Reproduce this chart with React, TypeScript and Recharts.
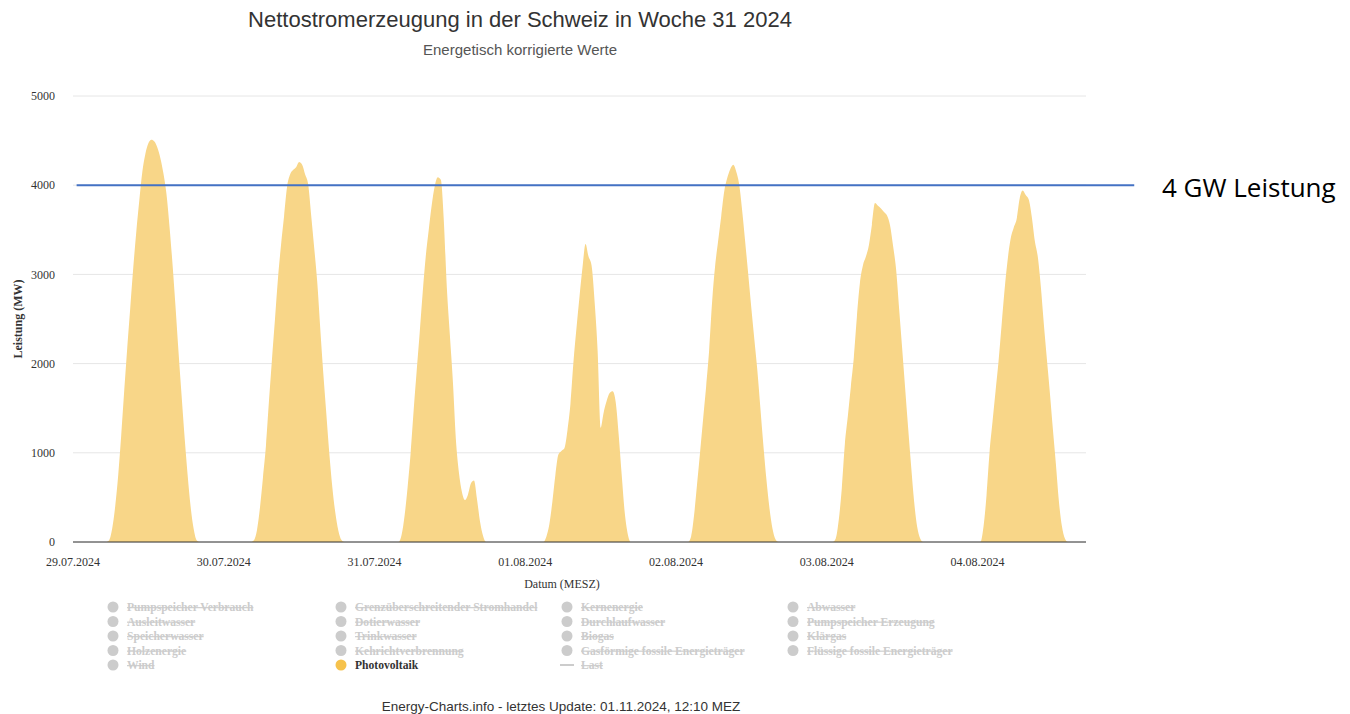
import React from 'react';
import { ComposedChart, Area, XAxis, YAxis, CartesianGrid, ReferenceLine } from 'recharts';

// ---- data ----
const DAY_LABELS = ['29.07.2024', '30.07.2024', '31.07.2024', '01.08.2024', '02.08.2024', '03.08.2024', '04.08.2024'];
const TICK_HOURS = [0, 25, 50, 75, 100, 125, 150];
const Y_TICKS = [0, 1000, 2000, 3000, 4000, 5000];
const X_DOMAIN_HOURS = 168;
const THRESHOLD_MW = 4000;
const THRESHOLD_LABEL = '4 GW Leistung';

// Photovoltaik (MW), half-hourly values from 05:00 to 21:30 for each day
const DAY_START_HOUR = 5;
const STEP_HOURS = 0.5;
const PV_29_07 = [0, 0, 20, 150, 400, 750, 1200, 1700, 2180, 2630, 3080, 3480, 3830, 4150, 4350, 4470, 4510, 4490, 4420, 4300, 4130, 3900, 3540, 3120, 2640, 2130, 1650, 1180, 760, 400, 150, 20, 0, 0];
const PV_30_07 = [0, 0, 20, 130, 380, 720, 1080, 1580, 2050, 2500, 2960, 3330, 3650, 3980, 4120, 4170, 4200, 4260, 4230, 4120, 4010, 3660, 3300, 2920, 2400, 1900, 1450, 1000, 620, 330, 130, 25, 0, 0];
const PV_31_07 = [0, 0, 0, 80, 300, 620, 1000, 1480, 1920, 2350, 2800, 3200, 3500, 3780, 3990, 4090, 4060, 3600, 2850, 2320, 1800, 1150, 780, 560, 470, 530, 660, 690, 480, 230, 70, 0, 0, 0];
const PV_01_08 = [0, 0, 0, 60, 200, 450, 750, 980, 1020, 1050, 1250, 1550, 2020, 2400, 2750, 3080, 3340, 3200, 3100, 2700, 2150, 1280, 1450, 1580, 1670, 1690, 1570, 1200, 750, 330, 90, 0, 0, 0];
const PV_02_08 = [0, 0, 0, 60, 300, 650, 1010, 1380, 1740, 2150, 2700, 3100, 3380, 3650, 3930, 4080, 4180, 4230, 4150, 4000, 3700, 3350, 2990, 2620, 2270, 1920, 1500, 1080, 700, 380, 150, 30, 0, 0];
const PV_03_08 = [0, 0, 0, 40, 250, 600, 1090, 1410, 1740, 2070, 2520, 2900, 3100, 3200, 3330, 3560, 3800, 3770, 3740, 3700, 3660, 3550, 3320, 3060, 2620, 2180, 1730, 1280, 850, 450, 170, 40, 0, 0];
const PV_04_08 = [0, 0, 0, 0, 170, 520, 1000, 1350, 1690, 2030, 2430, 2830, 3160, 3400, 3520, 3620, 3850, 3940, 3890, 3840, 3650, 3380, 3200, 2870, 2450, 2060, 1680, 1270, 880, 460, 180, 40, 0, 0];
const PV_DAYS = [PV_29_07, PV_30_07, PV_31_07, PV_01_08, PV_02_08, PV_03_08, PV_04_08];

const LEGEND_NAMES = [
  'Pumpspeicher Verbrauch', 'Grenzüberschreitender Stromhandel', 'Kernenergie', 'Abwasser',
  'Ausleitwasser', 'Dotierwasser', 'Durchlaufwasser', 'Pumpspeicher Erzeugung',
  'Speicherwasser', 'Trinkwasser', 'Biogas', 'Klärgas',
  'Holzenergie', 'Kehrichtverbrennung', 'Gasförmige fossile Energieträger', 'Flüssige fossile Energieträger',
  'Wind', 'Photovoltaik', 'Last',
];
const LEGEND_ACTIVE = ['Photovoltaik'];
const LEGEND_LINE_SYMBOL = ['Last'];

const TITLE = 'Nettostromerzeugung in der Schweiz in Woche 31 2024';
const SUBTITLE = 'Energetisch korrigierte Werte';
const FOOTER = 'Energy-Charts.info - letztes Update: 01.11.2024, 12:10 MEZ';
const Y_TITLE = 'Leistung (MW)';
const X_TITLE = 'Datum (MESZ)';

// ---- styles ----
const PV_FILL = '#f8d688';
const PV_LEGEND = '#f6c24c';
const LINE_BLUE = '#4472c4';
const SERIF = '"Liberation Serif", "Times New Roman", serif';
const SANS = '"Liberation Sans", Arial, Helvetica, sans-serif';

function buildData() {
  const rows: { t: number; pv: number }[] = [];
  PV_DAYS.forEach((arr, d) => {
    for (let k = 0; k < 48; k++) {
      const hour = k * 0.5;
      const idx = Math.round((hour - DAY_START_HOUR) / STEP_HOURS);
      const v = idx >= 0 && idx < arr.length ? arr[idx] : 0;
      rows.push({ t: d * 24 + hour, pv: v });
    }
  });
  rows.push({ t: X_DOMAIN_HOURS, pv: 0 });
  return rows;
}

const data = buildData();

const W = 1350;
const H = 714;

function Overlay() {
  const colX = [113, 341, 567, 793];
  const rowY0 = 607;
  const rowDy = 14.5;
  return (
    <svg width={W} height={H} style={{ position: 'absolute', left: 0, top: 0, pointerEvents: 'none' }}>
      <text x={520} y={27} textAnchor="middle" fontFamily={SANS} fontSize={22} fill="#333">{TITLE}</text>
      <text x={520} y={55} textAnchor="middle" fontFamily={SANS} fontSize={15} fill="#555">{SUBTITLE}</text>
      <text x={561} y={711} textAnchor="middle" fontFamily={SANS} fontSize={13.5} fill="#333">{FOOTER}</text>
      <text transform="translate(22,319) rotate(-90)" textAnchor="middle" fontFamily={SERIF} fontSize={12} fontWeight="bold" fill="#333">{Y_TITLE}</text>
      <text x={562} y={588} textAnchor="middle" fontFamily={SERIF} fontSize={12} fill="#333">{X_TITLE}</text>
      <text x={1162} y={197} fontFamily='"Open Sans", "Noto Sans", sans-serif' fontSize={26} fill="#000">{THRESHOLD_LABEL}</text>
      {LEGEND_NAMES.map((name, i) => {
        const col = i % 4;
        const row = Math.floor(i / 4);
        const cx = colX[col];
        const cy = rowY0 + row * rowDy;
        const active = LEGEND_ACTIVE.includes(name);
        const isLine = LEGEND_LINE_SYMBOL.includes(name);
        return (
          <g key={name}>
            {isLine ? (
              <line x1={cx - 7} x2={cx + 7} y1={cy} y2={cy} stroke="#ccc" strokeWidth={2} />
            ) : (
              <circle cx={cx} cy={cy} r={5.5} fill={active ? PV_LEGEND : '#ccc'} />
            )}
            <text
              x={cx + 14}
              y={cy + 4}
              fontFamily={SERIF}
              fontSize={11.6}
              fontWeight="bold"
              fill={active ? '#333' : '#ccc'}
              textDecoration={active ? undefined : 'line-through'}
            >
              {name}
            </text>
          </g>
        );
      })}
    </svg>
  );
}

export default function App() {
  return (
    <div style={{ position: 'absolute', left: 0, top: 0, width: W, height: H, background: '#fff' }}>
      <ComposedChart width={W} height={H} data={data} margin={{ top: 96, right: 264, bottom: 142, left: 0 }}>
        <CartesianGrid horizontal vertical={false} stroke="#e6e6e6" />
        <XAxis
          type="number"
          dataKey="t"
          domain={[0, X_DOMAIN_HOURS]}
          ticks={TICK_HOURS}
          interval={0}
          height={30}
          tickLine={false}
          tickMargin={9}
          axisLine={{ stroke: '#333', strokeWidth: 1 }}
          tick={{ fontFamily: SERIF, fontSize: 12, fill: '#333', stroke: 'none' }}
          tickFormatter={(v: number) => DAY_LABELS[TICK_HOURS.indexOf(v)] ?? ''}
        />
        <YAxis
          type="number"
          domain={[0, 5000]}
          ticks={Y_TICKS}
          interval={0}
          width={73}
          axisLine={false}
          tickLine={false}
          tickMargin={12}
          stroke="#333"
          tick={{ fontFamily: SERIF, fontSize: 12, fill: '#333', stroke: 'none' }}
        />
        <Area
          type="monotone"
          dataKey="pv"
          name="Photovoltaik"
          stroke="none"
          fill={PV_FILL}
          fillOpacity={1}
          isAnimationActive={false}
          dot={false}
          activeDot={false}
        />
        <ReferenceLine
          segment={[{ x: 0.6, y: THRESHOLD_MW }, { x: 176, y: THRESHOLD_MW }]}
          stroke={LINE_BLUE}
          strokeWidth={2}
          ifOverflow="visible"
        />
      </ComposedChart>
      <Overlay />
    </div>
  );
}
